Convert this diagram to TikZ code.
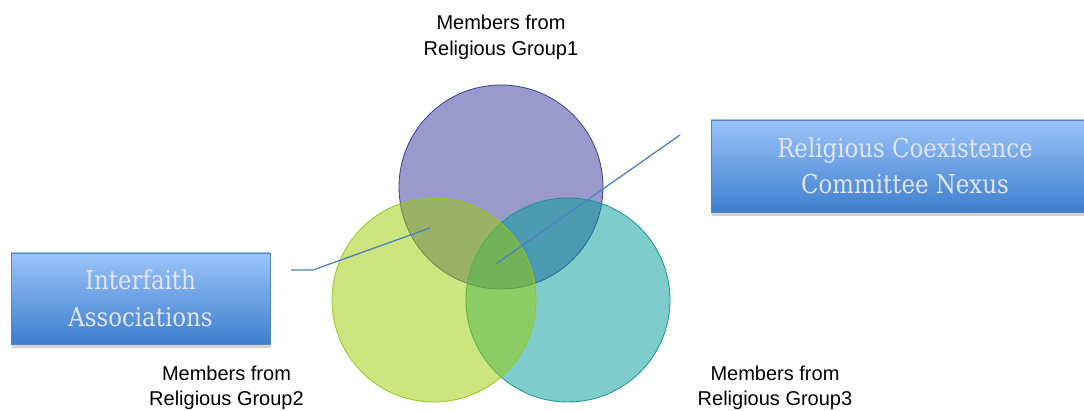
\documentclass[tikz,border=0pt]{standalone}
\usepackage{fontspec}
\setmainfont{Liberation Sans}
\newfontfamily\boxfont[FakeStretch=0.88]{DejaVu Serif}
\usetikzlibrary{shadows}
\definecolor{groupA}{RGB}{51,51,153}
\definecolor{groupB}{RGB}{153,204,0}
\definecolor{groupC}{RGB}{0,153,153}
\definecolor{edgeA}{RGB}{60,60,160}
\definecolor{edgeB}{RGB}{150,200,20}
\definecolor{edgeC}{RGB}{20,150,150}
\definecolor{boxtop}{RGB}{155,196,250}
\definecolor{boxbot}{RGB}{62,126,206}
\definecolor{boxedge}{RGB}{85,135,200}
\definecolor{linkblue}{RGB}{79,129,189}
\definecolor{boxtext}{RGB}{226,229,238}
\tikzset{
  group/.style={circle, minimum size=204pt, inner sep=0pt, fill opacity=0.5, line width=0.8pt},
  label/.style={font=\fontsize{20}{25.5}\selectfont, align=center, text=black},
  titlebox/.style={rectangle, draw=boxedge, line width=0.8pt, top color=boxtop, bottom color=boxbot,
    drop shadow={shadow xshift=1pt, shadow yshift=-4pt, opacity=0.35},
    text=boxtext, align=center, font=\boxfont\fontsize{26}{36.5}\selectfont},
  link/.style={draw=linkblue, line width=1.3pt}
}
\begin{document}
\begin{tikzpicture}[x=1pt,y=-1pt]
\useasboundingbox (0,0) rectangle (1084,411);
% three overlapping groups
\node[group, fill=groupA, draw=edgeA] (g1) at (501,187) {};
\node[group, fill=groupC, draw=edgeC] (g3) at (568,300) {};
\node[group, fill=groupB, draw=edgeB] (g2) at (434,300) {};
% group captions
\node[label] (l1) at (501,37.5) {Members from\\Religious Group1};
\node[label] (l2) at (226.5,388) {Members from\\Religious Group2};
\node[label] (l3) at (775,388) {Members from\\Religious Group3};
% title boxes
\node[titlebox, minimum width=388pt, minimum height=92pt] (nexus) at (905,166) {Religious Coexistence\\Committee Nexus};
\node[titlebox, minimum width=259pt, minimum height=91pt] (inter) at (140.5,298.5) {Interfaith\\Associations};
% pointers
\coordinate (p1) at (291,270);
\coordinate (p2) at (313,270);
\coordinate (p3) at (430,228);
\coordinate (q1) at (680,135);
\coordinate (q2) at (496,264);
\draw[link] (p1) -- (p2) -- (p3);
\draw[link] (q1) -- (q2);
\end{tikzpicture}
\end{document}
